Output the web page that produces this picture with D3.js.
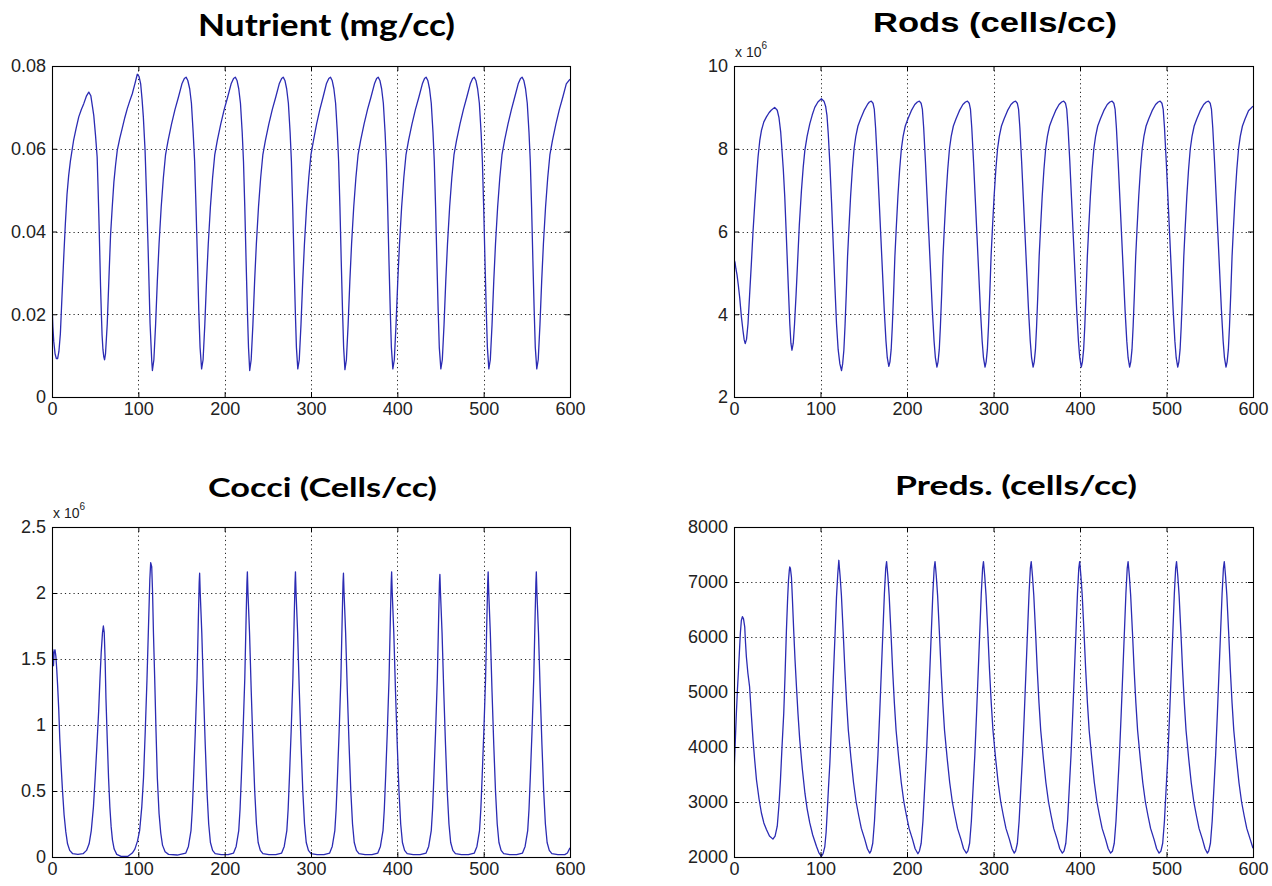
<!DOCTYPE html>
<html>
<head>
<meta charset="utf-8">
<script src="https://cdn.jsdelivr.net/npm/d3@7"></script>
<style>
  html, body { margin: 0; padding: 0; background: #fff; }
  svg { display: block; }
</style>
</head>
<body>
<svg id="chart" width="1272" height="886"></svg>
<script>
// ---- data: time (t) and state of the chemostat model ----
const timeDomain = [0, 600];
const timeTicks = [0, 100, 200, 300, 400, 500, 600];

const nutrientTicks = [0, 0.02, 0.04, 0.06, 0.08];
const rodsTicks = [2, 4, 6, 8, 10];          // x 10^6
const cocciTicks = [0, 0.5, 1, 1.5, 2, 2.5]; // x 10^6
const predsTicks = [2000, 3000, 4000, 5000, 6000, 7000, 8000];

const titles = ["Nutrient (mg/cc)", "Rods (cells/cc)", "Cocci (Cells/cc)", "Preds. (cells/cc)"];

// Nutrient concentration, mg/cc
const nutrient = [
  [0,0.0225],[1,0.017],[2,0.0135],[3.5,0.0105],[5,0.0093],[6.5,0.0093],[8,0.011],[9.7,0.0153],[11.5,0.024],[13.6,0.0338],
  [15.5,0.042],[17.4,0.049],[19.3,0.0535],[21.3,0.057],[25,0.062],[28,0.065],[31,0.0677],[34,0.0695],[36.8,0.0709],[40,0.0728],
  [42.6,0.0737],[45,0.0728],[47,0.070],[48.4,0.068],[50.5,0.063],[52.3,0.058],[53.3,0.051],[54.3,0.0435],[55.3,0.035],[56.2,0.027],
  [57.2,0.020],[58,0.015],[59,0.0115],[60,0.0097],[60.9,0.009],[62,0.0105],[64,0.0177],[66,0.029],[67.8,0.039],[69.8,0.046],
  [71.7,0.052],[73.6,0.056],[75.6,0.0596],[78.5,0.0625],[81.4,0.065],[84.3,0.0675],[87.2,0.0697],[90,0.0715],[93,0.0733],[96,0.0757],
  [98.8,0.078],[100.8,0.0775],[102.7,0.0757],[104.3,0.072],[105.8,0.0677],[107.8,0.0596],[109.7,0.0475],[111.6,0.0338],[113.6,0.0177],[115.5,0.0089],
  [116.3,0.0064],[118,0.009],[120,0.0175],[122,0.028],[124,0.037],[126.5,0.046],[129,0.053],[131.5,0.0585],[134.5,0.062],[138.5,0.066],
  [142.5,0.0695],[146.5,0.0725],[150.5,0.0757],[153.3,0.077],[155.3,0.0773],[157.3,0.0765],[159.5,0.0745],[161.5,0.071],[163.5,0.064],[165.2,0.057],
  [166.8,0.046],[168.5,0.033],[170,0.021],[171.5,0.012],[173.3,0.0068],
  [175,0.009],[177,0.0175],[179,0.028],[181,0.037],[183.5,0.046],[186,0.053],[188.5,0.0585],[191.5,0.062],[195.5,0.066],[199.5,0.0695],
  [203.5,0.0725],[207.5,0.0757],[210.3,0.077],[212.3,0.0773],[214.3,0.0765],[216.3,0.0745],[218.3,0.071],[220.3,0.064],[221.8,0.057],[223.3,0.046],
  [224.8,0.033],[226.3,0.021],[227.6,0.012],[229,0.0064],
  [230.7,0.009],[232.7,0.0175],[234.7,0.028],[236.7,0.037],[239.2,0.046],[241.7,0.053],[244.2,0.0585],[247.2,0.062],[251.2,0.066],[255.2,0.0695],
  [259.2,0.0725],[263.2,0.0757],[266,0.077],[267.8,0.0773],[269.8,0.0765],[271.8,0.0745],[273.8,0.071],[275.8,0.064],[277.3,0.057],[278.8,0.046],
  [280.3,0.033],[281.8,0.021],[283.1,0.012],[284.7,0.0068],
  [286.4,0.009],[288.4,0.0175],[290.4,0.028],[292.4,0.037],[294.9,0.046],[297.4,0.053],[299.9,0.0585],[302.9,0.062],[306.5,0.066],[310.3,0.0695],
  [314,0.0725],[317.8,0.0757],[320.6,0.077],[322.5,0.0773],[324.5,0.0765],[326.5,0.0745],[328.5,0.071],[330.5,0.064],[332,0.057],[333.5,0.046],
  [335,0.033],[336.5,0.021],[337.8,0.012],[339.3,0.0066],
  [341,0.009],[343,0.0175],[345,0.028],[347,0.037],[349.5,0.046],[352,0.053],[354.5,0.0585],[357.5,0.062],[361.5,0.066],[365.5,0.0695],
  [369.5,0.0725],[373.5,0.0757],[376,0.077],[377.8,0.0773],[379.8,0.0765],[381.8,0.0745],[383.8,0.071],[385.8,0.064],[387.3,0.057],[388.8,0.046],
  [390.3,0.033],[391.8,0.021],[393.1,0.012],[394.8,0.0068],
  [396.5,0.009],[398.5,0.0175],[400.5,0.028],[402.5,0.037],[405,0.046],[407.5,0.053],[410,0.0585],[413,0.062],[417,0.066],[421,0.0695],
  [425,0.0725],[429,0.0757],[431.5,0.077],[433.3,0.0773],[435.3,0.0765],[437.3,0.0745],[439.3,0.071],[441.3,0.064],[442.8,0.057],[444.3,0.046],
  [445.8,0.033],[447.3,0.021],[448.6,0.012],[450.4,0.0068],
  [452.1,0.009],[454.1,0.0175],[456.1,0.028],[458.1,0.037],[460.6,0.046],[463.1,0.053],[465.6,0.0585],[468.6,0.062],[472.6,0.066],[476.6,0.0695],
  [480.5,0.0725],[484.5,0.0757],[487.2,0.077],[489,0.0773],[491,0.0765],[493,0.0745],[495,0.071],[497,0.064],[498.5,0.057],[500,0.046],
  [501.5,0.033],[503,0.021],[504.3,0.012],[506,0.0068],
  [507.7,0.009],[509.7,0.0175],[511.7,0.028],[513.7,0.037],[516.2,0.046],[518.7,0.053],[521.2,0.0585],[524.2,0.062],[528.2,0.066],[532.2,0.0695],
  [536,0.0725],[540,0.0757],[542.7,0.077],[544.5,0.0773],[546.5,0.0765],[548.5,0.0745],[550.5,0.071],[552.5,0.064],[554,0.057],[555.5,0.046],
  [557,0.033],[558.5,0.021],[559.8,0.012],[561.5,0.0068],
  [563.2,0.009],[565.2,0.0175],[567.2,0.028],[569.2,0.037],[571.7,0.046],[574.2,0.053],[576.7,0.0585],[579.7,0.062],[583.7,0.066],[587.7,0.0695],
  [591.7,0.0725],[595.7,0.0757],[600,0.0768]
];

// Rod-shaped bacteria, millions of cells/cc
const rods = [
  [0,4.95],[0.4,5.3],[1.2,5.25],[2.2,5.1],[3.5,4.95],[5,4.7],[6.6,4.4],[8.5,3.95],[10.4,3.6],[11.8,3.38],
  [13,3.29],[14.5,3.4],[16.2,3.77],[18,4.45],[20,5.2],[22,6.0],[24,6.67],[26,7.3],[27.8,7.8],[29.8,8.2],
  [31.7,8.44],[34.5,8.65],[37.5,8.77],[40.5,8.87],[43,8.93],[47,9.0],[50,8.93],[52,8.75],[54,8.4],[55.5,7.95],
  [57,7.5],[58.7,6.83],[60.3,6.0],[61.8,5.2],[63.2,4.45],[64.5,3.77],[65.8,3.3],[67,3.13],[68.5,3.3],[70,3.77],
  [71.7,4.45],[73.4,5.2],[75.5,6.15],[78,7.0],[80,7.55],[81.9,7.96],[84.5,8.3],[87.6,8.6],[90.5,8.82],[93.4,9.0],
  [97,9.13],[101,9.21],[104,9.15],[106,9.02],[107.5,8.8],[109,8.35],[110.8,7.64],[112.8,6.7],[114.7,5.7],[116.6,4.7],
  [118.5,3.77],[120.4,3.15],[122.4,2.8],[124.3,2.64],
  [125.6,2.8],[127,3.13],[128.3,3.7],[129.8,4.5],[131.3,5.4],[132.8,6.05],[134.8,6.85],[136.8,7.5],[138.8,8.0],[140.8,8.3],
  [143.3,8.55],[146.3,8.72],[150.3,8.92],[154.3,9.07],[156.5,9.13],[158.7,9.15],[160.7,9.1],[162.2,8.95],[163.7,8.5],[165.7,7.7],
  [167.7,6.8],[169.7,5.9],[171.7,5.0],[173.7,4.1],[175.7,3.35],[177.2,2.95],[179,2.74],
  [180.3,2.85],[181.7,3.15],[183,3.7],[184.5,4.5],[186,5.4],[187.5,6.05],[189.5,6.85],[191.5,7.5],[193.5,8.0],[195.5,8.3],
  [198,8.55],[201,8.72],[205,8.92],[209,9.07],[212,9.13],[214.3,9.15],[216.3,9.1],[217.8,8.95],[219.3,8.5],[221.3,7.7],
  [223.3,6.8],[225.3,5.9],[227.3,5.0],[229.3,4.1],[231.3,3.35],[232.8,2.95],[234.6,2.72],
  [235.9,2.85],[237.3,3.15],[238.6,3.7],[240.1,4.5],[241.6,5.4],[243.1,6.05],[245.1,6.85],[247.1,7.5],[249.1,8.0],[251.1,8.3],
  [253.6,8.55],[256.6,8.72],[260.6,8.92],[264.6,9.07],[267.6,9.13],[269.9,9.15],[271.9,9.1],[273.4,8.95],[274.9,8.5],[276.9,7.7],
  [278.9,6.8],[280.9,5.9],[282.9,5.0],[284.9,4.1],[286.9,3.35],[288.4,2.95],[290.2,2.72],
  [291.5,2.85],[292.9,3.15],[294.2,3.7],[295.7,4.5],[297.2,5.4],[298.7,6.05],[300.7,6.85],[302.7,7.5],[304.7,8.0],[306.7,8.3],
  [309.2,8.55],[312.2,8.72],[316.2,8.92],[320.2,9.07],[323.2,9.13],[325.5,9.15],[327.5,9.1],[329,8.95],[330.5,8.5],[332.5,7.7],
  [334.5,6.8],[336.5,5.9],[338.5,5.0],[340.5,4.1],[342.5,3.35],[344,2.95],[345.8,2.72],
  [347.1,2.85],[348.5,3.15],[349.8,3.7],[351.3,4.5],[352.8,5.4],[354.3,6.05],[356.3,6.85],[358.3,7.5],[360.3,8.0],[362.3,8.3],
  [364.8,8.55],[367.8,8.72],[371.8,8.92],[375.8,9.07],[378.8,9.13],[381.2,9.15],[383.2,9.1],[384.7,8.95],[386.2,8.5],[388.2,7.7],
  [390.2,6.8],[392.2,5.9],[394.2,5.0],[396.2,4.1],[398.2,3.35],[399.7,2.95],[401.5,2.72],
  [402.8,2.85],[404.2,3.15],[405.5,3.7],[407,4.5],[408.5,5.4],[410,6.05],[412,6.85],[414,7.5],[416,8.0],[418,8.3],
  [420.5,8.55],[423.5,8.72],[427.5,8.92],[431.5,9.07],[434.5,9.13],[437.1,9.15],[439.1,9.1],[440.6,8.95],[442.1,8.5],[444.1,7.7],
  [446.1,6.8],[448.1,5.9],[450.1,5.0],[452.1,4.1],[454.1,3.35],[455.6,2.95],[457.4,2.72],
  [458.7,2.85],[460.1,3.15],[461.4,3.7],[462.9,4.5],[464.4,5.4],[465.9,6.05],[467.9,6.85],[469.9,7.5],[471.9,8.0],[473.9,8.3],
  [476.4,8.55],[479.4,8.72],[483.4,8.92],[487.4,9.07],[490.4,9.13],[492.7,9.15],[494.7,9.1],[496.2,8.95],[497.7,8.5],[499.7,7.7],
  [501.7,6.8],[503.7,5.9],[505.7,5.0],[507.7,4.1],[509.7,3.35],[511.2,2.95],[513,2.72],
  [514.3,2.85],[515.7,3.15],[517,3.7],[518.5,4.5],[520,5.4],[521.5,6.05],[523.5,6.85],[525.5,7.5],[527.5,8.0],[529.5,8.3],
  [532,8.55],[535,8.72],[539,8.92],[543,9.07],[546,9.13],[548.5,9.15],[550.5,9.1],[552,8.95],[553.5,8.5],[555.5,7.7],
  [557.5,6.8],[559.5,5.9],[561.5,5.0],[563.5,4.1],[565.5,3.35],[567,2.95],[568.8,2.72],
  [570.1,2.85],[571.5,3.15],[572.8,3.7],[574.3,4.5],[575.8,5.4],[577.3,6.05],[579.3,6.85],[581.3,7.5],[583.3,8.0],[585.3,8.3],
  [587.8,8.55],[590.8,8.72],[594.8,8.92],[600,9.03]
];

// Cocci, millions of cells/cc
const cocci = [
  [0,1.25],[0.5,1.5],[1,1.57],[1.7,1.45],[2.5,1.55],[3.5,1.57],[4.5,1.52],[5.5,1.42],[6.5,1.3],[7.8,1.12],
  [9,0.9],[10.5,0.7],[12,0.52],[14,0.32],[16,0.19],[18,0.1],[20.5,0.05],[24,0.025],[30,0.02],[36,0.025],
  [40,0.05],[43,0.1],[45.5,0.2],[48,0.38],[50,0.6],[52,0.84],[54,1.1],[55.5,1.34],[57,1.55],[58.5,1.7],
  [59.5,1.75],[60.5,1.7],[61.5,1.5],[62.5,1.2],[64,0.89],[65.5,0.6],[67,0.38],[68.5,0.23],[70,0.13],[72,0.06],
  [75,0.02],[80,0.005],[88,0.005],[93,0.03],[96,0.06],[99,0.12],[101.5,0.2],[104,0.38],[106,0.6],[108,0.95],
  [110,1.34],[112,1.8],[113.3,2.1],[114.3,2.23],[115.5,2.2],[116.5,2.0],[117.5,1.7],[119,1.34],[120.5,0.95],[122,0.6],
  [124,0.33],[126,0.18],[128,0.09],[131,0.04],[135,0.02],[145,0.015],
  [155,0.03],[158,0.08],[161,0.2],[162.5,0.36],[164,0.6],[166,0.95],[168,1.35],[169.5,1.8],[170.5,2.08],[171,2.15],
  [171.7,2.0],[173.5,1.7],[175.5,1.25],[177.5,0.85],[179.5,0.5],[181.5,0.25],[183.5,0.11],[186,0.05],[189,0.025],[196,0.018],[204,0.018],
  [210.3,0.03],[213.3,0.08],[216.3,0.2],[217.8,0.36],[219.3,0.6],[221.3,0.95],[223.3,1.35],[224.8,1.8],[225.8,2.08],[226.3,2.16],
  [227,2.0],[228.8,1.7],[230.8,1.25],[232.8,0.85],[234.8,0.5],[236.8,0.25],[238.8,0.11],[241.3,0.05],[244.3,0.025],[251.3,0.018],[259.3,0.018],
  [266,0.03],[269,0.08],[272,0.2],[273.5,0.36],[275,0.6],[277,0.95],[279,1.35],[280.5,1.8],[281.5,2.08],[282,2.16],
  [282.7,2.0],[284.5,1.7],[286.5,1.25],[288.5,0.85],[290.5,0.5],[292.5,0.25],[294.5,0.11],[297,0.05],[300,0.025],[307,0.018],[315,0.018],
  [321.6,0.03],[324.6,0.08],[327.6,0.2],[329.1,0.36],[330.6,0.6],[332.6,0.95],[334.6,1.35],[336.1,1.8],[337.1,2.08],[337.6,2.15],
  [338.3,2.0],[340.1,1.7],[342.1,1.25],[344.1,0.85],[346.1,0.5],[348.1,0.25],[350.1,0.11],[352.6,0.05],[355.6,0.025],[362.6,0.018],[370.6,0.018],
  [377.4,0.03],[380.4,0.08],[383.4,0.2],[384.9,0.36],[386.4,0.6],[388.4,0.95],[390.4,1.35],[391.9,1.8],[392.9,2.08],[393.4,2.16],
  [394.1,2.0],[395.9,1.7],[397.9,1.25],[399.9,0.85],[401.9,0.5],[403.9,0.25],[405.9,0.11],[408.4,0.05],[411.4,0.025],[418.4,0.018],[426.4,0.018],
  [433.3,0.03],[436.3,0.08],[439.3,0.2],[440.8,0.36],[442.3,0.6],[444.3,0.95],[446.3,1.35],[447.8,1.8],[448.8,2.08],[449.3,2.14],
  [450,2.0],[451.8,1.7],[453.8,1.25],[455.8,0.85],[457.8,0.5],[459.8,0.25],[461.8,0.11],[464.3,0.05],[467.3,0.025],[474.3,0.018],[482.3,0.018],
  [489.2,0.03],[492.2,0.08],[495.2,0.2],[496.7,0.36],[498.2,0.6],[500.2,0.95],[502.2,1.35],[503.7,1.8],[504.7,2.08],[505.2,2.16],
  [505.9,2.0],[507.7,1.7],[509.7,1.25],[511.7,0.85],[513.7,0.5],[515.7,0.25],[517.7,0.11],[520.2,0.05],[523.2,0.025],[530.2,0.018],[538.2,0.018],
  [545,0.03],[548,0.08],[551,0.2],[552.5,0.36],[554,0.6],[556,0.95],[558,1.35],[559.5,1.8],[560.5,2.08],[561,2.16],
  [561.7,2.0],[563.5,1.7],[565.5,1.25],[567.5,0.85],[569.5,0.5],[571.5,0.25],[573.5,0.11],[576,0.05],[579,0.025],[586,0.018],[594,0.018],
  [597,0.03],[600,0.07]
];

// Predators, cells/cc
const preds = [
  [0,3300],[0.5,3700],[1.5,4100],[2.7,4600],[4,5050],[5.4,5460],[7.3,6060],[8.5,6300],[9.7,6370],[11,6330],
  [12.4,6185],[13.3,5900],[14.3,5640],[16,5350],[18,5100],[20,4600],[22,4130],[24,3750],[26,3400],[29,3050],
  [31.7,2800],[34.5,2620],[37.5,2500],[41,2380],[45,2325],[47.5,2380],[50,2560],[52,2950],[53.7,3400],[55.5,4000],
  [57.5,4610],[59,5300],[60.6,6120],[62,6700],[63,7030],[64,7220],[64.5,7274],[65.2,7250],[66.4,7090],[67.5,6700],
  [69,6125],[70.5,5600],[72.2,5100],[74,4600],[76,4130],[79,3600],[82,3160],[84.5,2880],[87.6,2620],[91,2400],
  [95.4,2190],[98,2080],[101,2010],[103,2060],[105,2190],[106.5,2450],[107.7,2800],[109.2,3250],[110.8,3700],[112.8,4450],
  [114.7,5220],[116.7,6000],[118.5,6730],[120,7150],[121.2,7395],
  [121.9,7250],[122.7,7100],[124.2,6750],[126.2,6100],[128.2,5400],[130.2,4800],[132.2,4300],[135.2,3800],[138.2,3350],[141.2,3000],
  [144.2,2750],[147.2,2520],[151.2,2320],[154.2,2150],[156.9,2070],
  [158.4,2110],[160.4,2250],[162.4,2650],[164.4,3250],[166.4,3850],[168.4,4600],[170.4,5400],[172.4,6200],[173.9,6800],[175.4,7250],
  [176.4,7370],[177.1,7250],[177.9,7100],[179.4,6750],[181.4,6100],[183.4,5400],[185.4,4800],[187.4,4300],[190.4,3800],[193.4,3350],
  [196.4,3000],[199.4,2750],[202.4,2520],[206.4,2320],[209.4,2150],[212.6,2060],
  [214.4,2110],[216.4,2250],[218.4,2650],[220.4,3250],[222.4,3850],[224.4,4600],[226.4,5400],[228.4,6200],[229.9,6800],[231.4,7250],
  [232.4,7370],[233.1,7250],[233.9,7100],[235.4,6750],[237.4,6100],[239.4,5400],[241.4,4800],[243.4,4300],[246.4,3800],[249.4,3350],
  [252.4,3000],[255.4,2750],[258.4,2520],[262.4,2320],[265.4,2150],[268.6,2070],
  [270.4,2110],[272.4,2250],[274.4,2650],[276.4,3250],[278.4,3850],[280.4,4600],[282.4,5400],[284.4,6200],[285.9,6800],[287.4,7250],
  [288.4,7370],[289.1,7250],[289.9,7100],[291.4,6750],[293.4,6100],[295.4,5400],[297.4,4800],[299.4,4300],[302.4,3800],[305.4,3350],
  [308.4,3000],[311.4,2750],[314.4,2520],[318.4,2320],[321.4,2150],[324,2070],
  [325.6,2110],[327.6,2250],[329.6,2650],[331.6,3250],[333.6,3850],[335.6,4600],[337.6,5400],[339.6,6200],[341.1,6800],[342.6,7250],
  [343.6,7370],[344.3,7250],[345.1,7100],[346.6,6750],[348.6,6100],[350.6,5400],[352.6,4800],[354.6,4300],[357.6,3800],[360.6,3350],
  [363.6,3000],[366.6,2750],[369.6,2520],[373.6,2320],[376.6,2150],[379.6,2070],
  [381.6,2110],[383.6,2250],[385.6,2650],[387.6,3250],[389.6,3850],[391.6,4600],[393.6,5400],[395.6,6200],[397.1,6800],[398.6,7250],
  [399.6,7370],[400.3,7250],[401.1,7100],[402.6,6750],[404.6,6100],[406.6,5400],[408.6,4800],[410.6,4300],[413.6,3800],[416.6,3350],
  [419.6,3000],[422.6,2750],[425.6,2520],[429.6,2320],[432.6,2150],[435.4,2070],
  [437.6,2110],[439.6,2250],[441.6,2650],[443.6,3250],[445.6,3850],[447.6,4600],[449.6,5400],[451.6,6200],[453.1,6800],[454.6,7250],
  [455.6,7370],[456.3,7250],[457.1,7100],[458.6,6750],[460.6,6100],[462.6,5400],[464.6,4800],[466.6,4300],[469.6,3800],[472.6,3350],
  [475.6,3000],[478.6,2750],[481.6,2520],[485.6,2320],[488.6,2150],[491.4,2070],
  [493.6,2110],[495.6,2250],[497.6,2650],[499.6,3250],[501.6,3850],[503.6,4600],[505.6,5400],[507.6,6200],[509.1,6800],[510.6,7250],
  [511.6,7370],[512.3,7250],[513.1,7100],[514.6,6750],[516.6,6100],[518.6,5400],[520.6,4800],[522.6,4300],[525.6,3800],[528.6,3350],
  [531.6,3000],[534.6,2750],[537.6,2520],[541.6,2320],[544.6,2150],[547.3,2070],
  [548.8,2110],[550.8,2250],[552.8,2650],[554.8,3250],[556.8,3850],[558.8,4600],[560.8,5400],[562.8,6200],[564.3,6800],[565.8,7250],
  [566.8,7370],[567.5,7250],[568.3,7100],[569.8,6750],[571.8,6100],[573.8,5400],[575.8,4800],[577.8,4300],[580.8,3800],[583.8,3350],
  [586.8,3000],[589.8,2750],[592.8,2520],[596.8,2320],[600,2160]
];

// ---- layout of the four panels ----
const panels = [
  { title: titles[0], data: nutrient, yDomain: [0, 0.08], yTicks: nutrientTicks, exponent: false,
    box: { x: 52, y: 66, w: 518, h: 331 },
    titleFont: "Lato, 'Open Sans', sans-serif", titleSize: 31, titleX: 326.5, titleY: 36, titleW: 257 },
  { title: titles[1], data: rods, yDomain: [2, 10], yTicks: rodsTicks, exponent: true,
    box: { x: 734, y: 66, w: 519, h: 331 },
    titleFont: "'Liberation Sans', Arial, sans-serif", titleSize: 27, titleX: 995, titleY: 32, titleW: 244 },
  { title: titles[2], data: cocci, yDomain: [0, 2.5], yTicks: cocciTicks, exponent: true,
    box: { x: 52, y: 527, w: 518, h: 330 },
    titleFont: "Lato, 'Open Sans', sans-serif", titleSize: 26, titleX: 322.5, titleY: 497, titleW: 229 },
  { title: titles[3], data: preds, yDomain: [2000, 8000], yTicks: predsTicks, exponent: false,
    box: { x: 734, y: 527, w: 519, h: 330 },
    titleFont: "Lato, 'Open Sans', sans-serif", titleSize: 27, titleX: 1016, titleY: 495, titleW: 242 }
];

const svg = d3.select("#chart");
const tickFont = "'Liberation Sans', Arial, Helvetica, sans-serif";
const lineColor = "#2b2bb3";

panels.forEach((p, i) => {
  const b = p.box;
  const x = d3.scaleLinear().domain(timeDomain).range([0, b.w]);
  const y = d3.scaleLinear().domain(p.yDomain).range([b.h, 0]);

  const g = svg.append("g").attr("transform", `translate(${b.x},${b.y})`);

  // dotted grid at interior ticks
  const grid = g.append("g").attr("class", "grid")
    .attr("stroke", "#000").attr("stroke-width", 1)
    .attr("stroke-dasharray", "1.2,3.1").attr("opacity", 0.85);
  grid.selectAll("line.v").data(timeTicks.slice(1, -1)).join("line")
    .attr("class", "v")
    .attr("x1", d => Math.round(x(d)) + 0.5).attr("x2", d => Math.round(x(d)) + 0.5)
    .attr("y1", 0).attr("y2", b.h);
  grid.selectAll("line.h").data(p.yTicks.slice(1, -1)).join("line")
    .attr("class", "h")
    .attr("x1", 0).attr("x2", b.w)
    .attr("y1", d => Math.round(y(d)) + 0.5).attr("y2", d => Math.round(y(d)) + 0.5);

  // data line, clipped to the axes box
  const clipId = "clip" + i;
  g.append("clipPath").attr("id", clipId)
    .append("rect").attr("x", 0).attr("y", 0).attr("width", b.w).attr("height", b.h);
  const line = d3.line().x(d => x(d[0])).y(d => y(d[1]));
  g.append("path")
    .datum(p.data)
    .attr("clip-path", `url(#${clipId})`)
    .attr("fill", "none")
    .attr("stroke", lineColor)
    .attr("stroke-width", 1.3)
    .attr("stroke-linejoin", "round")
    .attr("d", line);

  // axes: ticks point inward on all four sides, labels on bottom and left
  const styleAxis = sel => {
    sel.select(".domain").remove();
    sel.selectAll(".tick line").attr("stroke", "#000").attr("stroke-width", 1);
    sel.selectAll(".tick text")
      .attr("fill", "#222")
      .style("font-family", tickFont)
      .style("font-size", "18px");
  };
  g.append("g").attr("transform", `translate(0,${b.h})`)
    .call(d3.axisBottom(x).tickValues(timeTicks).tickFormat(String).tickSize(-5).tickPadding(5))
    .call(styleAxis);
  g.append("g")
    .call(d3.axisLeft(y).tickValues(p.yTicks).tickFormat(String).tickSize(-5).tickPadding(6))
    .call(styleAxis);
  g.append("g")
    .call(d3.axisTop(x).tickValues(timeTicks).tickFormat("").tickSize(-5))
    .call(styleAxis);
  g.append("g").attr("transform", `translate(${b.w},0)`)
    .call(d3.axisRight(y).tickValues(p.yTicks).tickFormat("").tickSize(-5))
    .call(styleAxis);

  // axes box
  g.append("rect")
    .attr("x", 0.5).attr("y", 0.5).attr("width", b.w).attr("height", b.h)
    .attr("fill", "none").attr("stroke", "#000").attr("stroke-width", 1.1);

  // exponent label above the y axis
  if (p.exponent) {
    const t = g.append("text")
      .attr("x", 1).attr("y", -9)
      .attr("fill", "#222")
      .style("font-family", tickFont)
      .style("font-size", "14px");
    t.append("tspan").text("x 10");
    t.append("tspan").attr("dy", -8).style("font-size", "10px").text("6");
  }

  // panel title
  svg.append("text")
    .attr("x", p.titleX).attr("y", p.titleY)
    .attr("text-anchor", "middle")
    .attr("textLength", p.titleW)
    .attr("lengthAdjust", "spacingAndGlyphs")
    .attr("fill", "#000")
    .style("font-family", p.titleFont)
    .style("font-weight", "bold")
    .style("font-size", p.titleSize + "px")
    .text(p.title);
});
</script>
</body>
</html>
